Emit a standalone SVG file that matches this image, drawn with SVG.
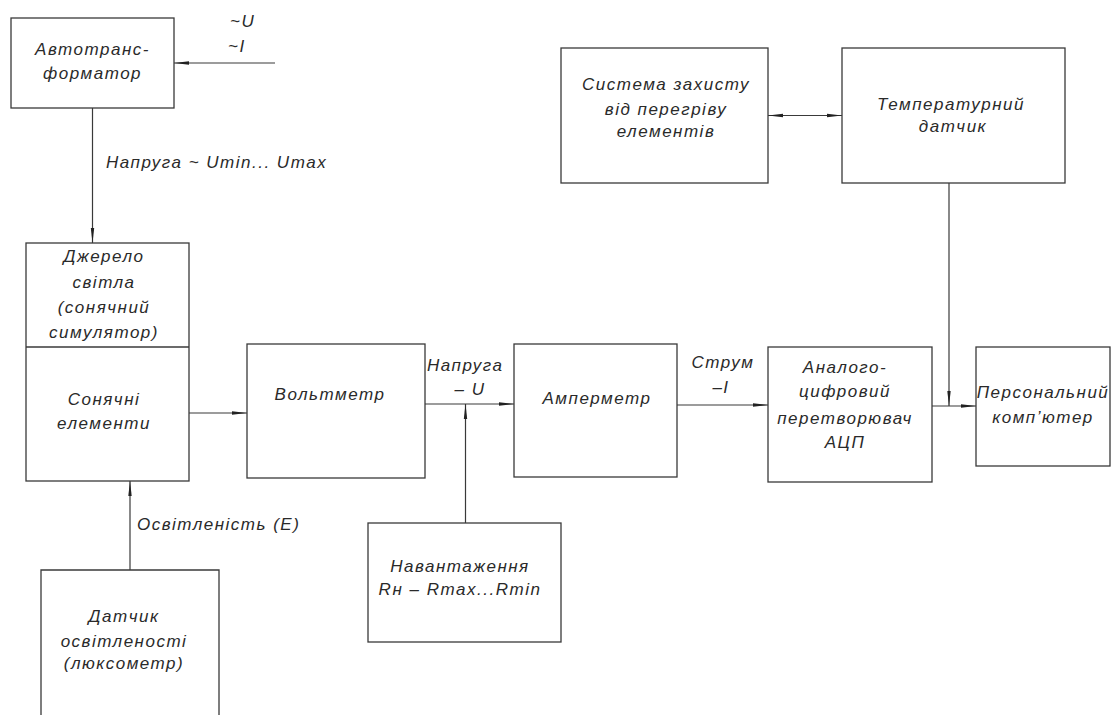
<svg xmlns="http://www.w3.org/2000/svg" width="1116" height="715" viewBox="0 0 1116 715">
<style>
.box{fill:none;stroke:#3a3a3a;stroke-width:1.3}
.ln{fill:none;stroke:#3a3a3a;stroke-width:1.2}
.t{font-family:"Liberation Sans",Arial,sans-serif;font-style:italic;font-size:17px;fill:#2a2a2a;letter-spacing:1.5px}
.c{text-anchor:middle}
</style>
<defs>
<marker id="ar" markerUnits="userSpaceOnUse" markerWidth="16" markerHeight="6" refX="15" refY="2.5" orient="auto-start-reverse" viewBox="0 0 16 5">
<path d="M0,0.8 L15,2.5 L0,4.2 Z" fill="#222"/>
</marker>
</defs>
<rect width="1116" height="715" fill="#fff"/>
<g id="connectors">
<line class="ln" x1="275" y1="63" x2="174" y2="63" marker-end="url(#ar)"/>
<line class="ln" x1="92.5" y1="108" x2="92.5" y2="243" marker-end="url(#ar)"/>
<line class="ln" x1="189" y1="413" x2="247" y2="413" marker-end="url(#ar)"/>
<line class="ln" x1="425" y1="404" x2="514" y2="404" marker-end="url(#ar)"/>
<line class="ln" x1="465.5" y1="523" x2="465.5" y2="404" marker-end="url(#ar)"/>
<line class="ln" x1="677" y1="405" x2="768" y2="405" marker-end="url(#ar)"/>
<line class="ln" x1="932" y1="406" x2="976" y2="406" marker-end="url(#ar)"/>
<line class="ln" x1="949" y1="183" x2="949" y2="406" marker-end="url(#ar)"/>
<line class="ln" x1="768" y1="115.5" x2="842" y2="115.5" marker-start="url(#ar)" marker-end="url(#ar)"/>
<line class="ln" x1="130" y1="570" x2="130" y2="481" marker-end="url(#ar)"/>
<text class="t" x="230" y="27">~U</text>
<text class="t" x="228" y="52">~I</text>
<text class="t" x="106" y="168">Напруга ~ Umin... Umax</text>
<text class="t" x="427" y="371">Напруга</text>
<text class="t c" x="470" y="395">– U</text>
<text class="t c" x="723" y="368">Струм</text>
<text class="t c" x="721" y="393">–I</text>
<text class="t" x="137" y="530">Освітленість (E)</text>
</g>
<g id="autotransformer">
<rect class="box" x="11" y="18" width="163" height="90"/>
<text class="t c" x="92.5" y="55">Автотранс-</text>
<text class="t c" x="92.5" y="79">форматор</text>
</g>
<g id="light-source">
<rect class="box" x="26" y="243" width="163" height="238"/>
<line class="box" x1="26" y1="347" x2="189" y2="347"/>
<text class="t c" x="104" y="262">Джерело</text>
<text class="t c" x="104" y="288">світла</text>
<text class="t c" x="104" y="313">(сонячний</text>
<text class="t c" x="104" y="338">симулятор)</text>
<text class="t c" x="104" y="405">Сонячні</text>
<text class="t c" x="104" y="429">елементи</text>
</g>
<g id="voltmeter">
<rect class="box" x="247" y="344" width="178" height="134"/>
<text class="t c" x="330" y="400">Вольтметр</text>
</g>
<g id="ammeter">
<rect class="box" x="514" y="344" width="163" height="133"/>
<text class="t c" x="597" y="404">Амперметр</text>
</g>
<g id="adc">
<rect class="box" x="768" y="347" width="164" height="135"/>
<text class="t c" x="845" y="373">Аналого-</text>
<text class="t c" x="845" y="397">цифровий</text>
<text class="t c" x="845" y="424">перетворювач</text>
<text class="t c" x="845" y="448">АЦП</text>
</g>
<g id="pc">
<rect class="box" x="976" y="347" width="134" height="119"/>
<text class="t c" x="1043" y="398">Персональний</text>
<text class="t c" x="1043" y="423">комп’ютер</text>
</g>
<g id="protection">
<rect class="box" x="561" y="48" width="207" height="135"/>
<text class="t c" x="666" y="90">Система захисту</text>
<text class="t c" x="666" y="115">від перегріву</text>
<text class="t c" x="666" y="137">елементів</text>
</g>
<g id="temp-sensor">
<rect class="box" x="842" y="48" width="223" height="135"/>
<text class="t c" x="951" y="110">Температурний</text>
<text class="t c" x="953" y="132">датчик</text>
</g>
<g id="load">
<rect class="box" x="368" y="523" width="193" height="119"/>
<text class="t c" x="460" y="572">Навантаження</text>
<text class="t c" x="460" y="595">Rн – Rmax...Rmin</text>
</g>
<g id="lux-sensor">
<path class="box" d="M41,716 V570 H219 V716"/>
<text class="t c" x="124" y="622">Датчик</text>
<text class="t c" x="124" y="647">освітленості</text>
<text class="t c" x="124" y="669">(люксометр)</text>
</g>
</svg>
